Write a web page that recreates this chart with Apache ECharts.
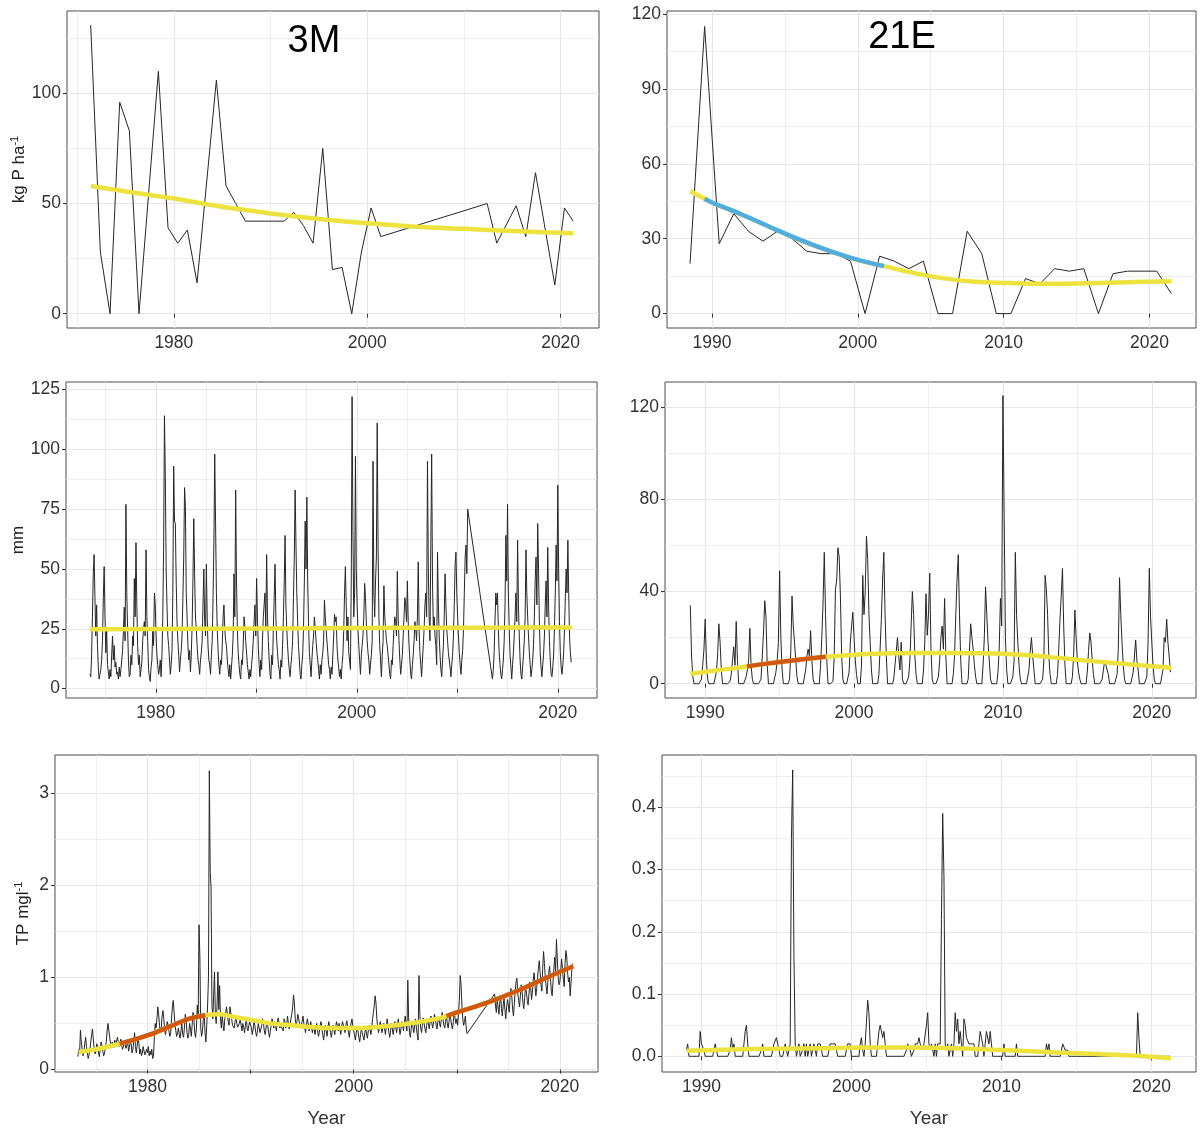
<!DOCTYPE html>
<html>
<head>
<meta charset="utf-8">
<script src="https://cdn.jsdelivr.net/npm/echarts@6/dist/echarts.min.js"></script>
<style>
  html, body { margin: 0; padding: 0; background: #fff; }
  #chart { width: 1200px; height: 1129px; }
</style>
</head>
<body>
<div id="chart"></div>
<script>
// ---- 3M annual P load (kg P/ha) ----
var loadA_years = [1971.4, 1972.4, 1973.4, 1974.4, 1975.4, 1976.4, 1978.4, 1979.4, 1980.4, 1981.4, 1982.4,
  1984.4, 1985.4, 1986.4, 1987.4, 1991.4, 1992.4, 1993.4, 1994.4, 1995.4, 1996.4, 1997.4, 1998.4, 1999.4,
  2000.4, 2001.4, 2012.4, 2013.4, 2015.4, 2016.4, 2017.4, 2019.4, 2020.4, 2021.3];
var loadA_vals = [131, 28, 0, 96, 83, 0, 110, 39, 32, 38, 14,
  106, 58, 50, 42, 42, 46, 40, 32, 75, 20, 21, 0, 28,
  48, 35, 50, 32, 49, 35, 64, 13, 48, 42];
var trendA_years = [1971.4, 1975, 1980, 1985, 1990, 1995, 2000, 2005, 2010, 2015, 2021.3];
var trendA_vals = [58, 55.5, 52.3, 48.5, 45.5, 43, 41, 39.5, 38.5, 37.5, 36.5];

// ---- 21E annual P load ----
var loadB_years = [1988.5, 1989.5, 1990.5, 1991.5, 1992.5, 1993.5, 1994.5, 1995.5, 1996.5, 1997.5, 1998.5,
  1999.5, 2000.5, 2001.5, 2002.5, 2003.5, 2004.5, 2005.5, 2006.5, 2007.5, 2008.5, 2009.5, 2010.5, 2011.5,
  2012.5, 2013.5, 2014.5, 2015.5, 2016.5, 2017.5, 2018.5, 2019.5, 2020.5, 2021.5];
var loadB_vals = [20, 115, 28, 40, 33, 29, 33, 30, 25, 24, 24,
  21, 0, 23, 21, 18, 21, 0, 0, 33, 24, 0, 0, 14,
  12, 18, 17, 18, 0, 16, 17, 17, 17, 8];
var trendB_years = [1988.5, 1989.5, 1990, 1992, 1994, 1996, 1998, 2000, 2001.8, 2004, 2006, 2008, 2010,
  2012, 2014, 2016, 2018, 2020, 2021.5];
var trendB_vals = [49, 46, 44.5, 39.8, 34.6, 29.6, 25.2, 21.5, 19, 16, 14, 12.8, 12.3,
  12, 12, 12.2, 12.5, 12.8, 13];
var trendB_blue = [1989.5, 2001.8];

// ---- 3M monthly rainfall (mm) ----
var rain3M_startA = 1973.45;
var rain3M_a = [
  6, 5, 14, 30, 48, 56, 38,
  22, 35, 18, 9, 4, 6, 8, 12, 20, 38, 51, 30,
  15, 24, 10, 7, 4, 8, 5, 14, 22, 12, 18, 9,
  11, 6, 7, 4, 9, 5, 8, 12, 16, 24, 34, 20,
  77, 40, 25, 12, 5, 6, 14, 10, 22, 18, 46, 30,
  61, 35, 18, 10, 14, 5, 8, 11, 20, 25, 28, 22,
  58, 30, 20, 8, 5, 3, 9, 12, 24, 18, 40, 35,
  22, 14, 10, 6, 8, 12, 5, 14, 30, 60, 114, 89,
  50, 35, 22, 18, 12, 6, 10, 16, 40, 93, 70, 69,
  45, 28, 20, 14, 7, 12, 16, 22, 38, 55, 84, 76,
  40, 30, 18, 12, 16, 7, 14, 26, 45, 71, 48, 30,
  25, 18, 12, 10, 6, 12, 15, 20, 35, 50, 28, 22,
  52, 30, 18, 12, 10, 6, 14, 20, 38, 60, 98, 70,
  40, 25, 16, 10, 6, 12, 10, 18, 30, 35, 25, 20,
  18, 12, 8, 5, 10, 4, 9, 14, 22, 48, 30, 83,
  45, 25, 15, 10, 6, 4, 12, 10, 18, 30, 26, 20,
  15, 10, 7, 4, 8, 5, 10, 14, 20, 28, 35, 22,
  46, 30, 18, 10, 5, 12, 8, 20, 30, 35, 40, 25,
  56, 30, 20, 12, 6, 4, 14, 10, 25, 38, 52, 30,
  20, 15, 10, 8, 4, 12, 9, 18, 30, 45, 64, 35,
  25, 18, 12, 8, 5, 10, 14, 20, 38, 55, 83, 60,
  40, 28, 18, 12, 6, 4, 10, 14, 25, 45, 70, 50,
  80, 45, 28, 15, 10, 5, 12, 18, 22, 30, 25, 20,
  15, 12, 8, 4, 10, 6, 12, 15, 20, 37, 30, 25,
  20, 15, 10, 8, 4, 9, 6, 14, 22, 31, 28, 30,
  18, 12, 9, 5, 8, 4, 10, 14, 24, 40, 51, 35,
  20, 30, 15, 12, 8, 45, 122, 66, 30, 40, 97, 50,
  35, 25, 18, 12, 6, 14, 18, 22, 30, 44, 38, 28,
  20, 15, 12, 6, 10, 14, 20, 95, 40, 30, 45, 55,
  111, 60, 30, 18, 12, 5, 14, 20, 43, 30, 25, 20,
  18, 14, 10, 6, 4, 12, 10, 18, 25, 30, 28, 22,
  49, 30, 20, 12, 6, 10, 14, 22, 30, 38, 35, 28,
  45, 28, 18, 12, 6, 4, 10, 14, 20, 28, 25, 20,
  30, 53, 25, 15, 10, 5, 12, 18, 25, 35, 40, 30,
  95, 50, 30, 20, 60, 98, 45, 25, 30, 22, 18, 10,
  57, 35, 22, 14, 8, 5, 12, 18, 30, 48, 35, 25,
  20, 15, 12, 9, 5, 10, 14, 22, 35, 52, 57, 40,
  30, 22, 15, 10, 6, 12, 16, 25, 40, 55, 60, 48,
  75
];
var rain3M_startB = 2013.5;
var rain3M_b = [
  4, 8, 15, 28, 40, 35,
  40, 25, 15, 10, 6, 4, 8, 12, 20, 35, 64, 45,
  77, 40, 25, 14, 9, 4, 10, 15, 22, 30, 40, 28,
  62, 35, 22, 12, 6, 4, 9, 14, 20, 30, 58, 40,
  30, 22, 15, 10, 5, 8, 12, 18, 30, 45, 55, 35,
  69, 50, 28, 15, 9, 5, 10, 14, 22, 35, 45, 30,
  59, 35, 20, 12, 6, 5, 9, 14, 25, 40, 60, 45,
  85, 50, 28, 15, 9, 6, 10, 15, 25, 38, 50, 40,
  62, 40, 22, 15, 11
];
var trendC_years = [1973.45, 1985, 1995, 2005, 2015, 2021.4];
var trendC_vals = [24.8, 25.0, 25.2, 25.4, 25.5, 25.6];

// ---- 21E monthly rainfall (mm) ----
var rain21E_start = 1989.0;
var rain21E = [
  34, 12, 3, 0, 0, 0, 0, 0, 0, 2, 8, 15,
  28, 10, 2, 0, 0, 0, 0, 0, 0, 5, 12, 26,
  18, 6, 0, 0, 0, 0, 0, 0, 1, 4, 10, 16,
  8, 27, 10, 0, 0, 0, 0, 0, 0, 3, 6, 10,
  24, 8, 2, 0, 0, 0, 0, 0, 0, 2, 12, 22,
  36, 29, 8, 0, 0, 0, 0, 0, 0, 5, 10, 18,
  49, 20, 6, 0, 0, 0, 0, 0, 2, 14, 38, 25,
  18, 10, 3, 0, 0, 0, 0, 0, 0, 6, 12, 15,
  12, 23, 10, 2, 0, 0, 0, 0, 0, 8, 20, 35,
  57, 30, 10, 0, 0, 0, 0, 1, 12, 41, 45, 59,
  55, 38, 12, 2, 0, 0, 0, 0, 5, 18, 25, 31,
  20, 10, 4, 0, 0, 0, 8, 47, 30, 40, 64, 54,
  30, 18, 6, 0, 0, 0, 0, 0, 4, 15, 28, 45,
  57, 30, 12, 0, 0, 0, 0, 0, 2, 8, 14, 20,
  12, 6, 18, 2, 0, 0, 0, 0, 3, 10, 25, 40,
  30, 12, 4, 0, 0, 0, 0, 0, 6, 18, 39, 21,
  30, 48, 15, 2, 0, 0, 0, 0, 3, 10, 20, 25,
  15, 37, 12, 0, 0, 0, 0, 0, 4, 12, 30, 45,
  56, 30, 10, 0, 0, 0, 0, 0, 2, 14, 26, 20,
  15, 8, 3, 0, 0, 0, 0, 0, 8, 20, 42, 30,
  18, 10, 2, 0, 0, 0, 0, 0, 5, 15, 37, 25,
  125, 72, 20, 6, 0, 0, 0, 0, 3, 10, 57, 30,
  18, 8, 2, 0, 0, 0, 0, 0, 0, 6, 14, 20,
  12, 6, 0, 0, 0, 0, 0, 0, 2, 10, 47, 41,
  30, 12, 4, 0, 0, 0, 0, 0, 4, 15, 28, 38,
  50, 25, 8, 0, 0, 0, 0, 0, 3, 12, 32, 20,
  10, 5, 2, 0, 0, 0, 0, 0, 5, 14, 22, 18,
  10, 4, 0, 0, 0, 0, 0, 0, 2, 6, 10, 8,
  8, 4, 0, 0, 0, 0, 0, 0, 4, 15, 46, 30,
  18, 8, 2, 0, 0, 0, 0, 0, 0, 5, 12, 19,
  10, 6, 0, 0, 0, 0, 0, 0, 3, 18, 50, 29,
  18, 8, 2, 0, 0, 0, 0, 0, 0, 6, 20, 18,
  28, 18, 12, 5
];
var trendD_years = [1989.0, 1990, 1992, 1992.8, 1994, 1996, 1998.1, 2000, 2002, 2004, 2006, 2008, 2010,
  2012, 2014, 2016, 2018, 2020, 2021.3];
var trendD_vals = [4.3, 5.2, 6.8, 7.5, 8.6, 10.2, 11.7, 12.6, 13.1, 13.3, 13.3, 13.2, 13.0,
  12.2, 11.0, 9.8, 8.7, 7.6, 6.9];
var trendD_orange = [1992.8, 1998.1];

// ---- 3M monthly TP (mg/l) ----
var tp3M_startA = 1973.25;
var tp3M_a = [
  0.14, 0.22, 0.18, 0.43, 0.30, 0.22, 0.15, 0.20, 0.28,
  0.35, 0.25, 0.18, 0.12, 0.16, 0.22, 0.30, 0.38, 0.44, 0.32, 0.22, 0.17,
  0.20, 0.28, 0.25, 0.18, 0.14, 0.22, 0.30, 0.26, 0.20, 0.15, 0.18, 0.24,
  0.30, 0.42, 0.50, 0.48, 0.35, 0.28, 0.25, 0.30, 0.28, 0.24, 0.32, 0.26,
  0.28, 0.35, 0.30, 0.25, 0.28, 0.33, 0.26, 0.22, 0.25, 0.30, 0.27, 0.23,
  0.25, 0.30, 0.20, 0.24, 0.33, 0.28, 0.18, 0.22, 0.30, 0.40, 0.25, 0.18,
  0.20, 0.35, 0.28, 0.17, 0.22, 0.15, 0.18, 0.25, 0.20, 0.16, 0.14, 0.22,
  0.18, 0.25, 0.15, 0.20, 0.16, 0.22, 0.12, 0.15, 0.35, 0.50, 0.45, 0.55,
  0.68, 0.60, 0.48, 0.40, 0.45, 0.58, 0.64, 0.55, 0.42, 0.38, 0.45, 0.52,
  0.48, 0.42, 0.36, 0.40, 0.55, 0.68, 0.75, 0.62, 0.50, 0.42, 0.36, 0.40,
  0.45, 0.38, 0.34, 0.42, 0.50, 0.38, 0.35, 0.45, 0.60, 0.55, 0.40, 0.34,
  0.38, 0.50, 0.45, 0.36, 0.48, 0.62, 0.55, 0.40, 0.35, 0.45, 0.70, 0.58,
  1.57, 1.22, 0.45, 0.36, 0.42, 0.55, 0.60, 0.40, 0.30, 0.48, 0.70, 1.00,
  3.24, 2.14, 1.98, 0.72, 0.55, 0.80, 1.06, 0.60, 0.50, 0.70, 1.06, 0.65,
  0.91, 0.55, 0.45, 0.60, 0.48, 0.42, 0.55, 0.62, 0.68, 0.60, 0.52, 0.48,
  0.68, 0.62, 0.55, 0.48, 0.50, 0.45, 0.52, 0.58, 0.50, 0.46, 0.44, 0.50,
  0.55, 0.48, 0.42, 0.50, 0.46, 0.40, 0.48, 0.55, 0.45, 0.42, 0.48, 0.52,
  0.50, 0.45, 0.38, 0.44, 0.52, 0.48, 0.40, 0.36, 0.42, 0.50, 0.45, 0.40,
  0.42, 0.48, 0.55, 0.50, 0.42, 0.38, 0.45, 0.52, 0.48, 0.40, 0.35, 0.42,
  0.48, 0.55, 0.50, 0.45, 0.52, 0.48, 0.42, 0.50, 0.56, 0.52, 0.45, 0.48,
  0.50, 0.46, 0.42, 0.55, 0.52, 0.45, 0.48, 0.58, 0.50, 0.44, 0.50, 0.55,
  0.60, 0.68, 0.81, 0.72, 0.55, 0.48, 0.52, 0.60, 0.55, 0.50, 0.45, 0.48,
  0.52, 0.58, 0.50, 0.45, 0.40, 0.48, 0.55, 0.50, 0.42, 0.46, 0.52, 0.45,
  0.40, 0.48, 0.44, 0.38, 0.45, 0.50, 0.42, 0.36, 0.40, 0.48, 0.52, 0.44,
  0.38, 0.32, 0.40, 0.48, 0.42, 0.36, 0.45, 0.52, 0.46, 0.40, 0.35, 0.42,
  0.48, 0.44, 0.38, 0.45, 0.52, 0.48, 0.42, 0.50, 0.44, 0.38, 0.46, 0.52,
  0.50, 0.44, 0.40, 0.48, 0.53, 0.46, 0.40, 0.35, 0.44, 0.50, 0.55, 0.48,
  0.42, 0.38, 0.32, 0.40, 0.46, 0.42, 0.35, 0.30, 0.38, 0.44, 0.40, 0.36,
  0.32, 0.40, 0.45, 0.38, 0.34, 0.42, 0.48, 0.44, 0.38, 0.45, 0.55, 0.62,
  0.70, 0.80, 0.72, 0.55, 0.45, 0.40, 0.48, 0.52, 0.45, 0.40, 0.46, 0.50,
  0.44, 0.38, 0.46, 0.55, 0.48, 0.40, 0.35, 0.42, 0.50, 0.44, 0.38, 0.45,
  0.52, 0.46, 0.40, 0.48, 0.55, 0.45, 0.38, 0.44, 0.52, 0.48, 0.42, 0.50,
  0.58, 0.48, 0.42, 0.97, 0.55, 0.40, 0.35, 0.45, 0.52, 0.46, 0.40, 0.48,
  0.55, 0.45, 0.38, 0.32, 1.02, 0.60, 0.45, 0.40, 0.48, 0.56, 0.50, 0.44,
  0.40, 0.48, 0.55, 0.50, 0.44, 0.52, 0.58, 0.50, 0.45, 0.52, 0.60, 0.55,
  0.48, 0.44, 0.52, 0.58, 0.50, 0.46, 0.54, 0.62, 0.55, 0.48, 0.45, 0.52,
  0.58, 0.50, 0.45, 0.52, 0.60, 0.55, 0.48, 0.44, 0.52, 0.62, 0.56, 0.50,
  0.55, 0.48, 0.60, 0.75, 1.02, 0.92, 0.70, 0.55, 0.48, 0.52, 0.58, 0.45,
  0.39
];
var tp3M_startB = 2013.67;
var tp3M_b = [
  0.82, 0.70, 0.62, 0.75,
  0.68, 0.60, 0.72, 0.80, 0.66, 0.58, 0.70, 0.78, 0.65, 0.55, 0.68, 0.76,
  0.70, 0.62, 0.78, 0.88, 0.80, 0.65, 0.58, 0.72, 0.85, 0.95, 0.99, 0.82,
  0.75, 0.68, 0.80, 0.92, 0.85, 0.72, 0.66, 0.78, 0.90, 0.84, 0.75, 0.70,
  0.82, 0.95, 0.88, 0.76, 0.84, 0.98, 1.05, 0.92, 0.80, 0.88, 1.00, 1.10,
  1.18, 1.05, 0.92, 0.85, 1.10, 1.28, 1.15, 1.00, 0.90, 0.82, 0.95, 1.05,
  1.12, 1.00, 0.85, 0.80, 0.95, 1.10, 1.22, 1.05, 1.41, 1.20, 1.00, 0.92,
  0.95, 1.08, 1.20, 1.10, 0.98, 0.90, 1.15, 1.29, 1.22, 1.05, 0.95, 1.00,
  0.80, 0.95, 1.10, 1.15
];
var trendE_years = [1973.3, 1975, 1977.3, 1980, 1982, 1984, 1985.6, 1987, 1988, 1990, 1992, 1994, 1996,
  1998, 2000, 2002, 2004, 2006, 2008, 2009, 2010, 2012, 2014, 2016, 2018, 2020, 2021.3];
var trendE_vals = [0.19, 0.22, 0.28, 0.37, 0.46, 0.55, 0.59, 0.6, 0.58, 0.54, 0.5, 0.48, 0.46,
  0.45, 0.45, 0.46, 0.48, 0.51, 0.55, 0.58, 0.62, 0.69, 0.77, 0.86, 0.96, 1.06, 1.12];
var trendE_orange = [[1977.3, 1985.6], [2009, 2021.3]];

// ---- 21E monthly TP (mg/l) ----
var tp21E_start = 1989.0;
var tp21E = [
  0.01, 0.02, 0, 0, 0, 0, 0, 0, 0, 0, 0, 0.04,
  0.02, 0.02, 0.01, 0, 0, 0, 0, 0, 0, 0, 0.01, 0.02,
  0.02, 0, 0, 0, 0, 0, 0, 0, 0, 0, 0, 0.01,
  0.03, 0.01, 0.02, 0, 0, 0, 0, 0, 0, 0, 0.02, 0.04,
  0.05, 0.02, 0, 0, 0, 0, 0, 0, 0, 0, 0, 0,
  0.01, 0.02, 0, 0, 0, 0, 0, 0, 0, 0.01, 0.02, 0.02,
  0.03, 0.02, 0.01, 0, 0, 0, 0, 0.02, 0.02, 0, 0.01, 0.02,
  0.35, 0.46, 0.16, 0.02, 0, 0.01, 0.02, 0, 0, 0.01, 0.02, 0,
  0.02, 0, 0.01, 0.02, 0, 0, 0.02, 0.01, 0, 0.02, 0.02, 0.02,
  0.02, 0, 0, 0, 0, 0, 0, 0.02, 0.02, 0.02, 0.02, 0.02,
  0.01, 0, 0, 0, 0, 0, 0, 0, 0, 0.02, 0.02, 0.02,
  0, 0, 0, 0, 0, 0, 0, 0.02, 0.03, 0.01, 0, 0.02,
  0.02, 0.09, 0.07, 0.02, 0, 0, 0, 0, 0, 0.02, 0.04, 0.05,
  0.05, 0.03, 0.04, 0.02, 0, 0, 0, 0, 0, 0, 0, 0,
  0, 0, 0, 0, 0, 0, 0, 0, 0.01, 0.02, 0.02, 0.01,
  0, 0, 0.01, 0.02, 0.02, 0.02, 0.03, 0.02, 0.02, 0.01, 0.02, 0.02,
  0.05, 0.07, 0.02, 0.01, 0.02, 0.02, 0, 0.02, 0, 0.02, 0.02, 0.02,
  0.22, 0.39, 0.29, 0.02, 0.01, 0.02, 0, 0, 0.02, 0, 0.02, 0.07,
  0.04, 0.06, 0.02, 0.04, 0.02, 0, 0.06, 0.05, 0.03, 0.03, 0.02, 0.02,
  0.02, 0.02, 0.02, 0, 0, 0, 0.02, 0.04, 0.03, 0.02, 0, 0.02,
  0.04, 0.04, 0.02, 0.04, 0.02, 0, 0, 0, 0, 0, 0, 0,
  0, 0, 0.02, 0, 0, 0, 0, 0, 0, 0, 0, 0,
  0.02, 0, 0, 0, 0, 0, 0, 0, 0, 0, 0, 0,
  0, 0, 0, 0, 0, 0, 0, 0, 0, 0, 0, 0,
  0.02, 0.01, 0.02, 0, 0, 0, 0, 0, 0, 0, 0, 0,
  0.01, 0.02, 0.02, 0.01, 0.01, 0.01, 0, 0, 0, 0, 0, 0,
  0, 0, 0, 0, 0, 0, 0, 0, 0, 0, 0, 0,
  0, 0, 0, 0, 0, 0, 0, 0, 0, 0, 0, 0,
  0, 0, 0, 0, 0, 0, 0, 0, 0, 0, 0, 0,
  0, 0, 0, 0, 0, 0, 0, 0, 0, 0, 0, 0,
  0, 0.07, 0.03, 0, 0, 0, 0, 0, 0, 0, 0, 0,
  0, 0, 0, 0, 0, 0, 0, 0, 0, 0, 0, 0,
  0, 0, 0, 0
];
var trendF_years = [1989.0, 1992, 1995, 1998, 2001, 2004, 2007, 2010, 2013, 2016, 2019, 2021.3];
var trendF_vals = [0.009, 0.011, 0.012, 0.013, 0.014, 0.014, 0.013, 0.010, 0.007, 0.004, 0.001, -0.003];

var FONT = '"Liberation Sans", Arial, sans-serif';
var INK = '#262626', YELLOW = '#EDE33E', BLUE = '#4FAEDF', ORANGE = '#D2580F';

function pairs(xs, ys) { return xs.map(function (x, i) { return [x, ys[i]]; }); }
function monthly(start, vals) { return vals.map(function (v, i) { return [start + i / 12, v]; }); }
function segment(xs, ys, from, to) {
  return pairs(xs, ys).filter(function (p) { return p[0] >= from - 1e-6 && p[0] <= to + 1e-6; });
}

var panels = [
  { grid: { left: 67, top: 11, width: 532, height: 317 },
    x: [1968.95, 2023.97], xTicks: [1980, 2000, 2020], xLabels: [1980, 2000, 2020], xMinor: [1970, 1990, 2010],
    y: [-6.5, 137.4], yTicks: [0, 50, 100], yMinor: [25, 75, 125],
    yName: '{t|kg P ha}{s|-1}', yGap: 32,
    data: pairs(loadA_years, loadA_vals),
    trend: [trendA_years, trendA_vals], accents: [] },
  { grid: { left: 667, top: 11, width: 529, height: 317 },
    x: [1986.92, 2023.19], xTicks: [1990, 2000, 2010, 2020], xLabels: [1990, 2000, 2010, 2020], xMinor: [1995, 2005, 2015],
    y: [-5.77, 121.2], yTicks: [0, 30, 60, 90, 120], yMinor: [15, 45, 75, 105],
    data: pairs(loadB_years, loadB_vals),
    trend: [trendB_years, trendB_vals], accents: [[trendB_blue, BLUE]] },
  { grid: { left: 66, top: 382, width: 531, height: 316 },
    x: [1971.07, 2023.9], xTicks: [1980, 1990, 2000, 2010, 2020], xLabels: [1980, 2000, 2020],
    xMinor: [1975, 1985, 1995, 2005, 2015],
    y: [-3.9, 128.1], yTicks: [0, 25, 50, 75, 100, 125], yMinor: [12.5, 37.5, 62.5, 87.5, 112.5],
    yName: 'mm', yGap: 32,
    data: monthly(rain3M_startA, rain3M_a).concat(monthly(rain3M_startB, rain3M_b)),
    trend: [trendC_years, trendC_vals], accents: [] },
  { grid: { left: 665, top: 382, width: 531, height: 316 },
    x: [1987.3, 2022.97], xTicks: [1990, 2000, 2010, 2020], xLabels: [1990, 2000, 2010, 2020], xMinor: [1995, 2005, 2015],
    y: [-6.2, 130.9], yTicks: [0, 40, 80, 120], yMinor: [20, 60, 100],
    data: monthly(rain21E_start, rain21E),
    trend: [trendD_years, trendD_vals], accents: [[trendD_orange, ORANGE]] },
  { grid: { left: 55, top: 755, width: 543, height: 317 },
    x: [1971.03, 2023.7], xTicks: [1980, 1990, 2000, 2010, 2020], xLabels: [1980, 2000, 2020],
    xMinor: [1975, 1985, 1995, 2005, 2015],
    y: [-0.026, 3.41], yTicks: [0, 1, 2, 3], yMinor: [0.5, 1.5, 2.5],
    yName: '{t|TP mgl}{s|-1}', yGap: 22, xName: 'Year',
    data: monthly(tp3M_startA, tp3M_a).concat(monthly(tp3M_startB, tp3M_b)),
    trend: [trendE_years, trendE_vals], accents: [[trendE_orange[0], ORANGE], [trendE_orange[1], ORANGE]] },
  { grid: { left: 662, top: 755, width: 534, height: 317 },
    x: [1987.37, 2022.97], xTicks: [1990, 2000, 2010, 2020], xLabels: [1990, 2000, 2010, 2020], xMinor: [1995, 2005, 2015],
    y: [-0.0252, 0.484], yTicks: [0, 0.1, 0.2, 0.3, 0.4], yMinor: [0.05, 0.15, 0.25, 0.35, 0.45],
    yDigits: 1, xName: 'Year',
    data: monthly(tp21E_start, tp21E),
    trend: [trendF_years, trendF_vals], accents: [] }
];

var labelStyle = { fontFamily: FONT, fontSize: 17.5, color: '#333' };
var gridColor = '#e6e6e6';
var grids = [], xAxes = [], yAxes = [], series = [];

panels.forEach(function (p, k) {
  grids.push(Object.assign({
    show: true, borderColor: '#4d4d4d', borderWidth: 1, backgroundColor: '#fff',
    containLabel: false, outerBoundsMode: 'none'
  }, p.grid));

  xAxes.push({
    type: 'value', gridIndex: k, min: p.x[0], max: p.x[1],
    axisLine: { show: false },
    axisTick: { show: true, length: 4, customValues: p.xTicks, lineStyle: { color: '#333' } },
    axisLabel: Object.assign({ customValues: p.xLabels, margin: 6,
      formatter: function (v) { return String(Math.round(v)); } }, labelStyle),
    splitLine: { show: true, lineStyle: { color: gridColor, width: 1.2 } },
    name: p.xName || '', nameLocation: 'middle', nameGap: 37,
    nameTextStyle: { fontFamily: FONT, fontSize: 19, color: '#333' }
  });
  xAxes.push({
    type: 'value', gridIndex: k, min: p.x[0], max: p.x[1], position: 'bottom',
    axisLine: { show: false },
    axisTick: { show: false, customValues: p.xMinor },
    axisLabel: { show: false, customValues: p.xMinor },
    splitLine: { show: true, lineStyle: { color: gridColor, width: 0.7 } }
  });

  var fmt = p.yDigits ? function (v) { return v.toFixed(p.yDigits); } : function (v) { return String(v); };
  yAxes.push({
    type: 'value', gridIndex: k, min: p.y[0], max: p.y[1],
    axisLine: { show: false },
    axisTick: { show: true, length: 4, customValues: p.yTicks, lineStyle: { color: '#333' } },
    axisLabel: Object.assign({ customValues: p.yTicks, margin: 6, formatter: fmt }, labelStyle),
    splitLine: { show: true, lineStyle: { color: gridColor, width: 1.2 } },
    name: p.yName || '', nameLocation: 'middle', nameRotate: 90, nameGap: p.yGap || 40,
    nameTextStyle: {
      fontFamily: FONT, fontSize: 17, color: '#222',
      rich: { t: { fontFamily: FONT, fontSize: 17, color: '#222' },
              s: { fontFamily: FONT, fontSize: 11, color: '#222', padding: [0, 0, 9, 0] } }
    }
  });
  yAxes.push({
    type: 'value', gridIndex: k, min: p.y[0], max: p.y[1], position: 'left',
    axisLine: { show: false },
    axisTick: { show: false, customValues: p.yMinor },
    axisLabel: { show: false, customValues: p.yMinor },
    splitLine: { show: true, lineStyle: { color: gridColor, width: 0.7 } }
  });

  series.push({
    type: 'line', xAxisIndex: 2 * k, yAxisIndex: 2 * k, data: p.data,
    showSymbol: false, symbol: 'none', z: 2,
    lineStyle: { color: INK, width: 1 }
  });
  series.push({
    type: 'line', xAxisIndex: 2 * k, yAxisIndex: 2 * k, data: pairs(p.trend[0], p.trend[1]),
    showSymbol: false, symbol: 'none', smooth: 0.35, z: 3,
    lineStyle: { color: YELLOW, width: 4.5, cap: 'butt' }
  });
  p.accents.forEach(function (a) {
    series.push({
      type: 'line', xAxisIndex: 2 * k, yAxisIndex: 2 * k,
      data: segment(p.trend[0], p.trend[1], a[0][0], a[0][1]),
      showSymbol: false, symbol: 'none', smooth: 0.35, z: 4,
      lineStyle: { color: a[1], width: 4.5, cap: 'butt' }
    });
  });
});

var chart = echarts.init(document.getElementById('chart'), null, { renderer: 'canvas' });
chart.setOption({
  animation: false,
  backgroundColor: '#fff',
  grid: grids,
  xAxis: xAxes,
  yAxis: yAxes,
  series: series,
  graphic: [
    { type: 'text', x: 314, y: 42, z: 10,
      style: { text: '3M', fontFamily: FONT, fontSize: 38, fill: '#000', align: 'center', verticalAlign: 'middle' } },
    { type: 'text', x: 902, y: 38, z: 10,
      style: { text: '21E', fontFamily: FONT, fontSize: 38, fill: '#000', align: 'center', verticalAlign: 'middle' } }
  ]
});
</script>
</body>
</html>
